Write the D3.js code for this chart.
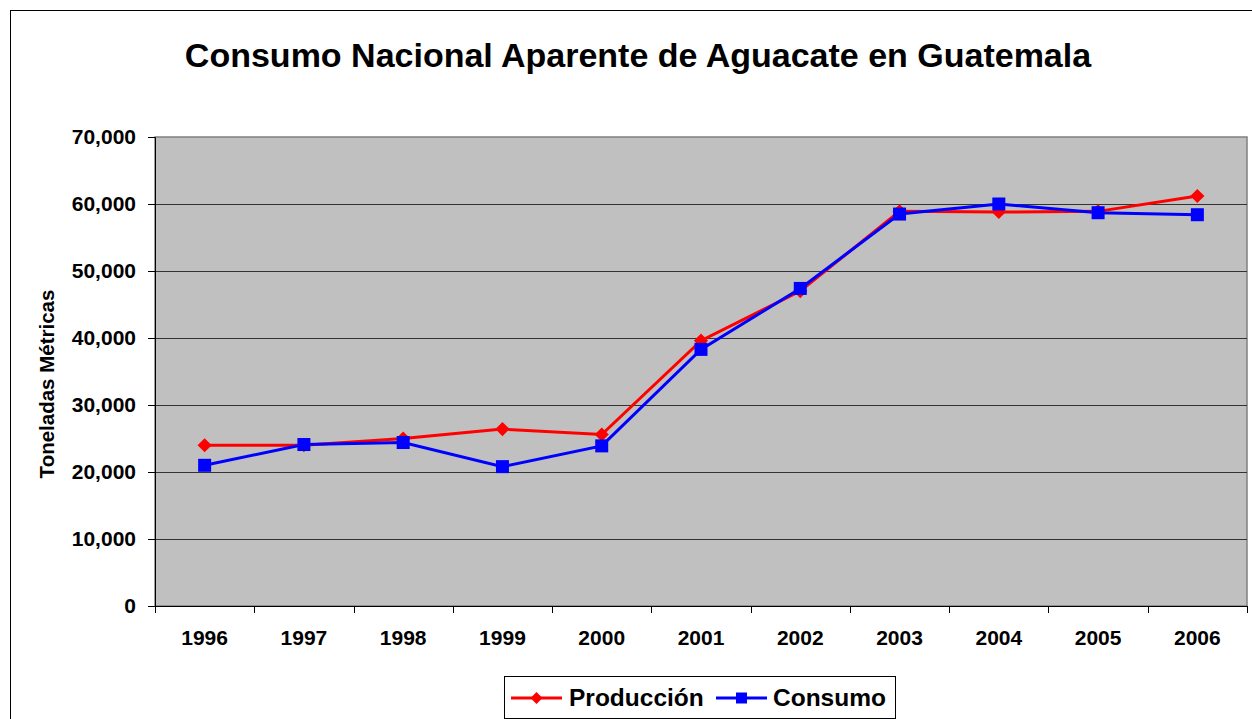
<!DOCTYPE html>
<html>
<head>
<meta charset="utf-8">
<script src="https://d3js.org/d3.v7.min.js"></script>
<style>
  body { margin: 0; background: #fff; }
  svg { display: block; font-family: "Liberation Sans", Arial, sans-serif; }
</style>
</head>
<body>
<svg id="chart" width="1252" height="719"></svg>
<script>
// datos
var years = ["1996", "1997", "1998", "1999", "2000", "2001", "2002", "2003", "2004", "2005", "2006"];
var produccion = [24000, 24000, 25000, 26400, 25600, 39600, 47000, 58900, 58800, 58900, 61200];
var consumo = [21000, 24100, 24400, 20800, 23900, 38300, 47400, 58500, 60000, 58700, 58400];
var yTicks = [0, 10000, 20000, 30000, 40000, 50000, 60000, 70000];

var svg = d3.select("#chart");
var plotL = 155, plotR = 1247, plotT = 137, plotB = 606;

// marco exterior
svg.append("rect")
  .attr("x", 10.5).attr("y", 10.5)
  .attr("width", 1270).attr("height", 730)
  .attr("fill", "#fff").attr("stroke", "#000").attr("stroke-width", 1);

svg.append("text")
  .attr("x", 638).attr("y", 67)
  .attr("text-anchor", "middle")
  .attr("font-size", "34px").attr("font-weight", "bold")
  .text("Consumo Nacional Aparente de Aguacate en Guatemala");

var x = d3.scaleBand().domain(years).range([plotL, plotR]);
var y = d3.scaleLinear().domain([0, 70000]).range([plotB, plotT]);

svg.append("rect")
  .attr("x", plotL).attr("y", plotT)
  .attr("width", plotR - plotL).attr("height", plotB - plotT)
  .attr("fill", "#c0c0c0").attr("stroke", "#808080").attr("stroke-width", 1.5);

// lineas de cuadricula
svg.append("g").selectAll("line")
  .data(yTicks.filter(function(d){ return d > 0 && d < 70000 }))
  .enter().append("line")
  .attr("x1", plotL).attr("x2", plotR)
  .attr("y1", function(d){ return Math.round(y(d)) + 0.5 })
  .attr("y2", function(d){ return Math.round(y(d)) + 0.5 })
  .attr("stroke", "#333").attr("stroke-width", 1);

var yAxis = svg.append("g")
  .attr("transform", "translate(" + plotL + ",0)")
  .call(d3.axisLeft(y).tickValues(yTicks).tickSize(7).tickPadding(12).tickFormat(d3.format(",")));
yAxis.selectAll("text").attr("font-size", "21px").attr("font-weight", "bold").attr("fill", "#000")
  .attr("font-family", "Liberation Sans, Arial, sans-serif");
yAxis.select(".domain").attr("stroke", "#000");

var boundaries = years.map(function(d){ return x(d) }).concat([plotR]);
var xAxis = svg.append("g");
xAxis.append("line")
  .attr("x1", plotL).attr("x2", plotR)
  .attr("y1", plotB + 0.5).attr("y2", plotB + 0.5)
  .attr("stroke", "#000");
xAxis.selectAll(".tk").data(boundaries).enter().append("line")
  .attr("x1", function(d){ return Math.round(d) + 0.5 })
  .attr("x2", function(d){ return Math.round(d) + 0.5 })
  .attr("y1", plotB).attr("y2", plotB + 7)
  .attr("stroke", "#000");
xAxis.selectAll("text").data(years).enter().append("text")
  .attr("x", function(d){ return x(d) + x.bandwidth() / 2 })
  .attr("y", 645)
  .attr("text-anchor", "middle")
  .attr("font-size", "21px").attr("font-weight", "bold")
  .text(function(d){ return d });

svg.append("text")
  .attr("transform", "translate(54,384) rotate(-90)")
  .attr("text-anchor", "middle")
  .attr("font-size", "20.5px").attr("font-weight", "bold")
  .text("Toneladas Métricas");

var cx = function(d, i){ return x(years[i]) + x.bandwidth() / 2 };
var line = d3.line().x(cx).y(function(d){ return y(d) });

svg.append("path").datum(produccion)
  .attr("d", line).attr("fill", "none")
  .attr("stroke", "#ff0000").attr("stroke-width", 3);
svg.append("path").datum(consumo)
  .attr("d", line).attr("fill", "none")
  .attr("stroke", "#0000ff").attr("stroke-width", 3);

var diamond = d3.symbol().type(d3.symbolSquare).size(100);
svg.append("g").selectAll("path").data(produccion).enter().append("path")
  .attr("d", diamond)
  .attr("transform", function(d, i){ return "translate(" + cx(d, i) + "," + y(d) + ") rotate(45)" })
  .attr("fill", "#ff0000");
svg.append("g").selectAll("rect").data(consumo).enter().append("rect")
  .attr("x", function(d, i){ return cx(d, i) - 6.5 })
  .attr("y", function(d){ return y(d) - 6.5 })
  .attr("width", 13).attr("height", 13)
  .attr("fill", "#0000ff");

// leyenda
var lg = svg.append("g");
lg.append("rect")
  .attr("x", 504.5).attr("y", 676.5).attr("width", 391).attr("height", 42)
  .attr("fill", "#fff").attr("stroke", "#000");
var items = [
  { name: "Producción", color: "#ff0000", lx: 511, tx: 569, shape: "d" },
  { name: "Consumo", color: "#0000ff", lx: 716, tx: 773, shape: "s" }
];
items.forEach(function(it){
  lg.append("line")
    .attr("x1", it.lx).attr("x2", it.lx + 51)
    .attr("y1", 698).attr("y2", 698)
    .attr("stroke", it.color).attr("stroke-width", 3);
  if (it.shape === "d") {
    lg.append("path").attr("d", d3.symbol().type(d3.symbolSquare).size(72)())
      .attr("transform", "translate(" + (it.lx + 25.5) + ",698) rotate(45)")
      .attr("fill", it.color);
  } else {
    lg.append("rect").attr("x", it.lx + 20).attr("y", 692.5)
      .attr("width", 11).attr("height", 11).attr("fill", it.color);
  }
  lg.append("text")
    .attr("x", it.tx).attr("y", 706)
    .attr("font-size", "24.5px").attr("font-weight", "bold")
    .text(it.name);
});
</script>
</body>
</html>
